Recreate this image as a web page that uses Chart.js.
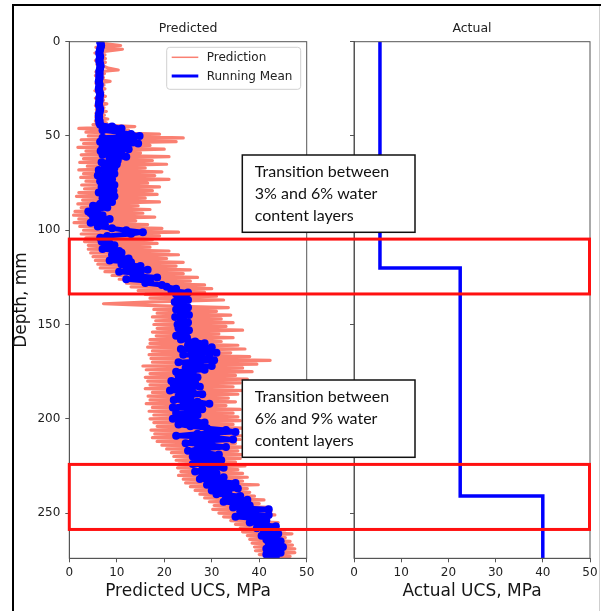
<!DOCTYPE html>
<html>
<head>
<meta charset="utf-8">
<script src="https://cdn.jsdelivr.net/npm/chart.js@4.4.1/dist/chart.umd.min.js"></script>
<style>
  html, body { margin: 0; padding: 0; background: #ffffff; }
  #wrap { position: relative; width: 603px; height: 611px; overflow: hidden; background: #fff; }
  canvas { position: absolute; left: 0; top: 0; }
  #overlay { pointer-events: none; }
</style>
</head>
<body>
<div id="wrap">
  <canvas id="cPred" width="603" height="611"></canvas>
  <canvas id="cAct" width="603" height="611"></canvas>
  <canvas id="overlay" width="603" height="611"></canvas>
</div>
<script>
// ---------------- DATA ----------------
const depthStep = 1; // mm between successive samples (depth = index * depthStep)
const depthMax = 274;

const predictedUCS = [
  6.5, 7.4, 10.8, 5.6, 11.2, 7.8, 5.4, 7.5, 6.0, 7.6,
  5.5, 7.6, 5.8, 7.3, 8.2, 10.3, 5.6, 7.4, 5.5, 7.2,
  5.9, 8.6, 5.6, 7.3, 5.8, 7.5, 5.4, 7.1, 6.0, 7.6,
  5.5, 7.2, 5.8, 7.9, 5.5, 7.3, 5.7, 7.8, 5.6, 7.4,
  5.6, 8.1, 5.5, 7.8, 5.0, 13.8, 2.0, 12.5, 3.5, 19.0,
  4.0, 24.0, 2.5, 22.5, 3.0, 17.0, 1.8, 20.0, 3.5, 15.0,
  2.5, 21.0, 3.0, 17.5, 2.2, 20.5, 3.8, 16.0, 2.0, 19.5,
  3.0, 18.0, 2.4, 21.0, 3.5, 16.5, 2.6, 19.0, 3.2, 17.5,
  2.0, 18.5, 1.5, 16.0, 2.8, 19.0, 1.8, 14.5, 2.5, 17.0,
  1.2, 15.5, 0.9, 18.0, 2.0, 14.0, 1.0, 16.5, 2.2, 19.5,
  3.0, 23.0, 2.5, 19.0, 3.5, 17.5, 3.2, 18.5, 4.0, 17.0,
  4.0, 21.0, 4.5, 23.0, 5.0, 20.5, 5.5, 24.0, 6.0, 22.5,
  6.5, 25.5, 7.5, 24.0, 9.0, 27.0, 10.5, 25.5, 12.0, 28.5,
  13.0, 30.0, 14.5, 28.5, 16.0, 31.0, 17.0, 32.5, 17.5, 7.2,
  18.0, 33.5, 17.8, 31.0, 18.5, 34.0, 17.5, 32.0, 18.2, 34.5,
  17.8, 33.0, 18.5, 36.5, 17.5, 31.5, 18.3, 34.5, 17.0, 32.0,
  17.0, 35.5, 16.5, 37.0, 17.5, 34.0, 16.8, 38.0, 17.2, 42.3,
  17.5, 39.5, 15.5, 36.5, 16.2, 38.5, 17.0, 35.0, 16.0, 37.5,
  16.5, 36.0, 17.0, 34.5, 16.0, 37.0, 17.5, 35.5, 16.6, 33.5,
  17.0, 35.0, 16.2, 33.0, 17.5, 36.0, 16.8, 34.5, 17.8, 35.5,
  17.0, 36.0, 17.8, 34.5, 18.5, 37.0, 17.2, 35.5, 18.0, 36.5,
  17.5, 36.0, 18.5, 35.0, 19.5, 37.0, 20.5, 35.5, 21.5, 36.5,
  22.0, 36.0, 22.5, 35.0, 23.0, 37.0, 22.8, 35.5, 23.5, 36.5,
  23.0, 37.5, 24.0, 36.5, 24.5, 39.8, 25.5, 37.5, 26.5, 38.0,
  27.5, 39.0, 28.5, 41.0, 29.5, 40.0, 30.5, 42.0, 30.2, 42.5,
  31.5, 43.3, 32.5, 42.0, 34.0, 44.0, 35.0, 43.5, 36.0, 45.5,
  36.5, 46.9, 37.5, 45.5, 38.0, 46.5, 38.5, 47.0, 39.0, 47.5,
  39.2, 47.5, 40.0, 46.5, 41.0
];

// Running mean of the prediction (MPa), one value per mm of depth
const runningMeanUCS = [
  6.5, 6.6, 6.7, 6.6, 6.5, 6.4, 6.3, 6.4, 6.5, 6.4,
  6.3, 6.4, 6.5, 6.6, 6.5, 6.4, 6.3, 6.4, 6.3, 6.4,
  6.3, 6.2, 6.3, 6.4, 6.3, 6.2, 6.3, 6.4, 6.5, 6.4,
  6.3, 6.4, 6.3, 6.2, 6.3, 6.4, 6.5, 6.4, 6.3, 6.2,
  6.3, 6.2, 6.4, 6.3, 6.5, 9.0, 11.0, 7.0, 10.5, 13.0,
  14.8, 7.0, 13.5, 6.5, 14.5, 9.0, 7.0, 12.5, 6.6, 11.0,
  7.0, 12.0, 8.5, 10.2, 6.8, 10.0, 7.5, 9.5, 6.2, 8.5,
  9.5, 6.0, 8.0, 9.0, 6.5, 8.5, 9.5, 6.8, 8.0, 9.3,
  6.2, 8.5, 9.5, 7.0, 8.0, 9.0, 6.5, 5.0, 8.0, 6.0,
  4.0, 4.5, 7.0, 5.0, 8.5, 6.0, 4.5, 7.5, 6.0, 9.0,
  12.0, 15.5, 13.0, 8.0, 6.5, 7.0, 6.8, 8.5, 9.5, 7.5,
  7.0, 10.5, 11.0, 9.0, 10.5, 12.5, 8.5, 13.0, 11.0, 15.0,
  12.0, 16.5, 10.5, 15.0, 13.5, 18.5, 12.0, 17.0, 16.0, 19.5,
  20.5, 22.5, 21.5, 25.0, 22.5, 24.5, 23.0, 25.0, 22.2, 24.0,
  23.0, 25.0, 22.5, 24.5, 23.5, 25.2, 22.3, 24.0, 23.5, 25.0,
  22.8, 24.5, 23.0, 25.2, 23.5, 24.5, 22.5, 24.8, 23.5, 26.5,
  28.5, 25.0, 30.0, 23.5, 28.0, 31.0, 24.0, 29.5, 26.0, 30.5,
  23.0, 27.5, 30.0, 24.5, 28.5, 22.5, 26.0, 23.0, 27.0, 24.0,
  21.5, 26.5, 22.0, 27.5, 24.0, 21.2, 26.0, 28.0, 23.0, 25.5,
  22.0, 27.0, 29.5, 24.0, 21.8, 28.0, 25.0, 22.5, 27.0, 24.0,
  21.8, 26.5, 28.5, 23.0, 25.5, 29.0, 33.0, 35.0, 27.0, 22.5,
  31.0, 34.5, 26.0, 24.5, 30.0, 33.0, 27.0, 25.0, 29.0, 31.5,
  26.0, 28.5, 32.0, 27.0, 26.0, 30.0, 32.5, 28.0, 26.5, 31.0,
  28.0, 32.5, 27.5, 30.5, 35.0, 29.0, 31.5, 35.5, 30.0, 33.5,
  31.0, 36.0, 33.0, 37.5, 32.5, 35.0, 38.0, 34.5, 42.0, 36.0,
  37.5, 42.0, 35.0, 39.5, 41.5, 38.0, 40.5, 43.5, 39.5, 42.0,
  41.0, 44.0, 40.5, 43.5, 41.5, 44.5, 42.0, 43.0, 45.0, 41.5,
  43.0, 44.5, 41.5, 43.5, 42.5
];

// Actual (measured) UCS profile: step changes between layers
const actualDepth = [0, 120, 120, 241, 241, 274];
const actualUCS   = [5.5, 5.5, 22.5, 22.5, 40, 40];

// Transition zones (depth ranges, mm) highlighted by red boxes
const transitionZones = [[104.7, 133.8], [224.2, 258.7]];
const transitionNotes = [
  ["Transition between", "3% and 6% water", "content layers"],
  ["Transition between", "6% and 9% water", "content layers"]
];

const xTicksStep = 10;
const yTicksStep = 50;

// ---------------- CHARTS ----------------
const SALMON = '#FA8072';
const BLUE = '#0000FF';
const AXIS = '#555555';
const TXT = '#222222';
const FONT = "'DejaVu Sans', sans-serif";

function toPoints(xs, ys) { return xs.map((v, i) => ({ x: v, y: ys[i] })); }
const predPts = predictedUCS.map((v, i) => ({ x: v, y: i * depthStep }));
const meanPts = runningMeanUCS.map((v, i) => ({ x: v, y: i * depthStep }));
const actPts = toPoints(actualUCS, actualDepth);

function scalesCfg(showYLabels, yWidth) {
  return {
    x: {
      type: 'linear', min: 0, max: 50,
      ticks: { stepSize: xTicksStep, color: TXT, font: { family: FONT, size: 12 }, padding: 3, maxRotation: 0 },
      grid: { drawOnChartArea: false, drawTicks: true, tickLength: 4, color: AXIS, lineWidth: 1 },
      border: { display: true, color: AXIS, width: 1 },
      afterFit: (s) => { s.height = 30; }
    },
    y: {
      type: 'linear', min: 0, max: depthMax, reverse: true,
      ticks: { stepSize: yTicksStep, includeBounds: false, color: TXT, font: { family: FONT, size: 12 }, padding: 5,
               callback: (v) => showYLabels ? v : '' },
      grid: { drawOnChartArea: false, drawTicks: true, tickLength: 4, color: AXIS, lineWidth: 1 },
      border: { display: true, color: AXIS, width: 1 },
      afterFit: (s) => { s.width = yWidth; }
    }
  };
}

const boxPlugin = {
  id: 'boxPlugin',
  afterDraw(chart) {
    const a = chart.chartArea, ctx = chart.ctx;
    ctx.save();
    ctx.strokeStyle = AXIS; ctx.lineWidth = 1;
    ctx.strokeRect(a.left, a.top, a.right - a.left, a.bottom - a.top);
    ctx.restore();
  }
};

const chartPred = new Chart(document.getElementById('cPred'), {
  type: 'scatter',
  data: {
    datasets: [
      { label: 'Running Mean', data: meanPts, showLine: true, borderColor: BLUE, backgroundColor: BLUE,
        borderWidth: 5, pointRadius: 4, pointBorderWidth: 0, pointBackgroundColor: BLUE, tension: 0, order: 0,
        borderJoinStyle: 'round', borderCapStyle: 'round', legendWidth: 3 },
      { label: 'Prediction', data: predPts, showLine: true, borderColor: SALMON, backgroundColor: SALMON,
        borderWidth: 3.2, pointRadius: 0, tension: 0, order: 1, borderJoinStyle: 'round', legendWidth: 1.5 }
    ]
  },
  options: {
    responsive: false, animation: false, devicePixelRatio: 1,
    layout: { padding: { left: 69.3 - 40, top: 41.7, right: 603 - 306.7, bottom: 611 - 558.3 - 30 } },
    plugins: { legend: { display: false }, tooltip: { enabled: false } },
    scales: scalesCfg(true, 40)
  },
  plugins: [boxPlugin]
});

const chartAct = new Chart(document.getElementById('cAct'), {
  type: 'scatter',
  data: {
    datasets: [
      { label: 'Actual', data: actPts, showLine: true, borderColor: BLUE, backgroundColor: BLUE,
        borderWidth: 3.5, pointRadius: 0, tension: 0 }
    ]
  },
  options: {
    responsive: false, animation: false, devicePixelRatio: 1,
    layout: { padding: { left: 354 - 8, top: 41.7, right: 603 - 590, bottom: 611 - 558.3 - 30 } },
    plugins: { legend: { display: false }, tooltip: { enabled: false } },
    scales: scalesCfg(false, 8)
  },
  plugins: [boxPlugin]
});

// ---------------- OVERLAY (titles, legend, annotations) ----------------
(function drawOverlay() {
  const ctx = document.getElementById('overlay').getContext('2d');
  const A = chartPred.chartArea, B = chartAct.chartArea;
  const yS = chartPred.scales.y;

  // outer frame
  ctx.save();
  ctx.strokeStyle = '#000'; ctx.lineWidth = 2;
  ctx.beginPath(); ctx.moveTo(13, 612); ctx.lineTo(13, 5); ctx.lineTo(601, 5); ctx.stroke();
  ctx.strokeStyle = '#cfcfcf'; ctx.lineWidth = 1;
  ctx.beginPath(); ctx.moveTo(599.5, 6); ctx.lineTo(599.5, 612); ctx.stroke();
  ctx.restore();

  // subplot titles
  ctx.fillStyle = TXT; ctx.textAlign = 'center'; ctx.textBaseline = 'middle';
  ctx.font = "12.5px " + FONT;
  ctx.fillText('Predicted', (A.left + A.right) / 2, 29);
  ctx.fillText('Actual', (B.left + B.right) / 2, 29);

  // axis titles
  ctx.font = "17px " + FONT; ctx.fillStyle = '#151515';
  ctx.fillText('Predicted UCS, MPa', (A.left + A.right) / 2, 592);
  ctx.fillText('Actual UCS, MPa', (B.left + B.right) / 2, 592);
  ctx.save();
  ctx.translate(22, (A.top + A.bottom) / 2);
  ctx.rotate(-Math.PI / 2);
  ctx.fillText('Depth, mm', 0, 0);
  ctx.restore();

  // legend
  ctx.save();
  const lx = 166.7, ly = 47.3, lw = 134, lh = 42;
  ctx.fillStyle = 'rgba(255,255,255,0.85)';
  ctx.strokeStyle = '#d0d0d0'; ctx.lineWidth = 1;
  ctx.beginPath(); ctx.roundRect(lx, ly, lw, lh, 3); ctx.fill(); ctx.stroke();
  const items = chartPred.data.datasets.slice().reverse();
  items.forEach((ds, i) => {
    const yy = ly + 10 + i * 18.7;
    ctx.strokeStyle = ds.borderColor; ctx.lineWidth = ds.legendWidth;
    ctx.beginPath(); ctx.moveTo(lx + 5, yy); ctx.lineTo(lx + 31.6, yy); ctx.stroke();
    ctx.fillStyle = TXT; ctx.font = "12px " + FONT; ctx.textAlign = 'left'; ctx.textBaseline = 'middle';
    ctx.fillText(ds.label, lx + 40, yy + 0.5);
  });
  ctx.restore();

  // note boxes
  const notePos = [155, 380];
  transitionNotes.forEach((lines, k) => {
    const top = notePos[k], left = 242.3, w = 172.7, h = 77.3;
    ctx.save();
    ctx.fillStyle = '#fff'; ctx.fillRect(left, top, w, h);
    ctx.strokeStyle = '#111'; ctx.lineWidth = 1.5; ctx.strokeRect(left, top, w, h);
    ctx.fillStyle = '#111'; ctx.font = "16px Lato, 'Open Sans', sans-serif";
    ctx.textAlign = 'left'; ctx.textBaseline = 'middle';
    lines.forEach((t, j) => ctx.fillText(t, left + 12.5, top + 17.3 + j * 22));
    ctx.restore();
  });

  // red transition boxes spanning both panels
  ctx.save();
  ctx.strokeStyle = '#ff1010'; ctx.lineWidth = 3;
  transitionZones.forEach(([d0, d1]) => {
    const y0 = yS.getPixelForValue(d0), y1 = yS.getPixelForValue(d1);
    ctx.strokeRect(A.left, y0, (B.right - 0.5) - A.left, y1 - y0);
  });
  ctx.restore();
})();
</script>
</body>
</html>
